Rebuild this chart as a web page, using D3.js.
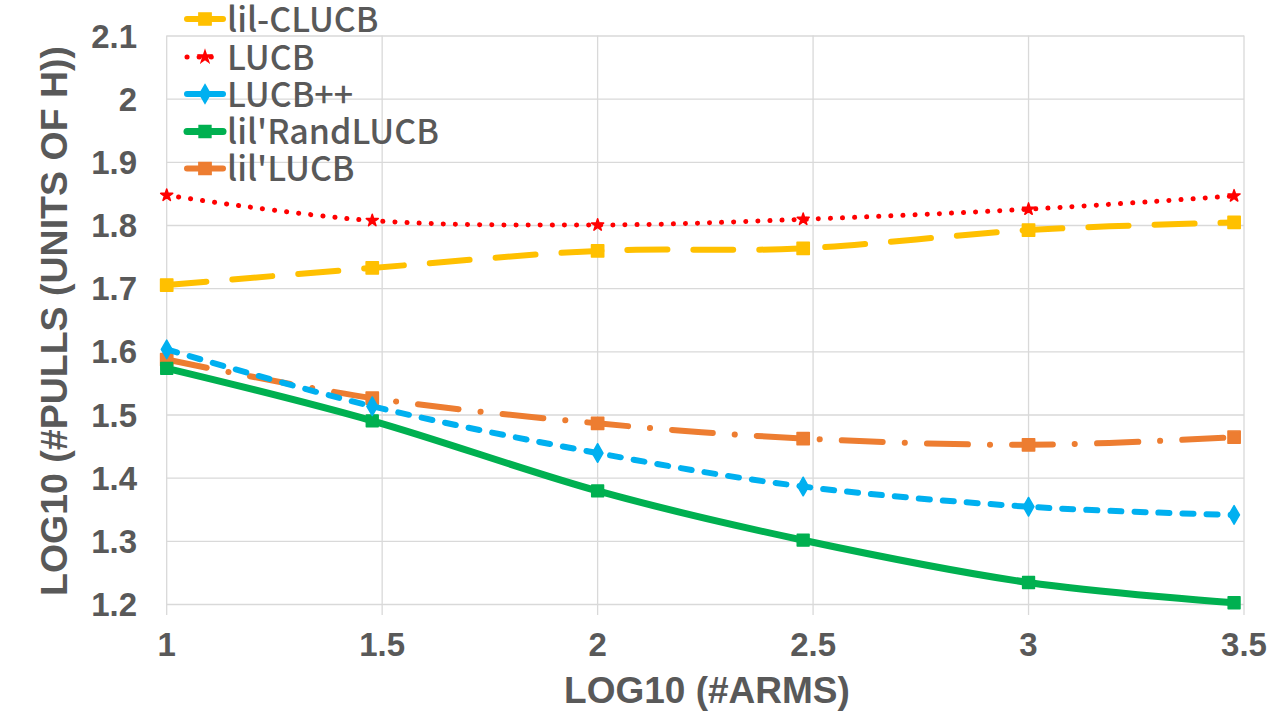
<!DOCTYPE html>
<html>
<head>
<meta charset="utf-8">
<script src="https://cdn.jsdelivr.net/npm/d3@7/dist/d3.min.js"></script>
<style>
  html, body { margin: 0; padding: 0; background: #ffffff; }
  svg { display: block; }
</style>
</head>
<body>
<svg id="chart" width="1280" height="720"></svg>
<script>
// ---- data ----
const xValues = [1, 1.477, 2, 2.477, 3, 3.477];
const seriesNames = ["lil-CLUCB", "LUCB", "LUCB++", "lil'RandLUCB", "lil'LUCB"];
const lilCLUCB   = [1.705, 1.732, 1.759, 1.763, 1.792, 1.804];
const lucb       = [1.847, 1.807, 1.800, 1.809, 1.825, 1.846];
const lucbPP     = [1.603, 1.513, 1.439, 1.386, 1.354, 1.341];
const lilRandLUCB= [1.573, 1.490, 1.379, 1.301, 1.234, 1.202];
const lilLUCB    = [1.587, 1.526, 1.486, 1.462, 1.452, 1.464];
const xTicks = [1, 1.5, 2, 2.5, 3, 3.5];
const yTicks = [1.2, 1.3, 1.4, 1.5, 1.6, 1.7, 1.8, 1.9, 2.0, 2.1];
const xTitle = "LOG10 (#ARMS)";
const yTitle = "LOG10 (#PULLS (UNITS OF H))";

// ---- styles ----
const styles = [
  { color: "#FFC000", width: 6, dash: "40 26", symbol: d3.symbolSquare, size: 150 },
  { color: "#FF0000", width: 5, dash: "0.1 12", symbol: d3.symbolStar, size: 45 },
  { color: "#00B0F0", width: 6, dash: "11 13", symbol: d3.symbolDiamond, size: 100 },
  { color: "#00B050", width: 7, dash: null, symbol: d3.symbolSquare, size: 140 },
  { color: "#ED7D31", width: 6, dash: "41 22 0.1 22", symbol: d3.symbolSquare, size: 150 }
];
const allSeries = [lilCLUCB, lucb, lucbPP, lilRandLUCB, lilLUCB];

const svg = d3.select("#chart");
const x = d3.scaleLinear().domain([1, 3.5]).range([166.7, 1244]);
const y = d3.scaleLinear().domain([1.2, 2.1]).range([604, 35.5]);
const textColor = "#595959";
const gridColor = "#D9D9D9";

// gridlines
svg.append("g").selectAll("line").data(yTicks).join("line")
  .attr("x1", x(1)).attr("x2", x(3.5))
  .attr("y1", d => y(d) + 0.5).attr("y2", d => y(d) + 0.5)
  .attr("stroke", gridColor).attr("stroke-width", 1.3);
svg.append("g").selectAll("line").data(xTicks).join("line")
  .attr("x1", d => x(d)).attr("x2", d => x(d))
  .attr("y1", y(2.1)).attr("y2", 615)
  .attr("stroke", gridColor).attr("stroke-width", 1.3);

// tick labels
svg.append("g").selectAll("text").data(yTicks).join("text")
  .attr("x", 137).attr("y", d => y(d) + 12)
  .attr("text-anchor", "end")
  .attr("font-family", "Liberation Sans, Arial, sans-serif")
  .attr("font-weight", "bold").attr("font-size", 33)
  .attr("fill", textColor)
  .text(d => d3.format("~g")(d));
svg.append("g").selectAll("text").data(xTicks).join("text")
  .attr("x", d => x(d)).attr("y", 656)
  .attr("text-anchor", "middle")
  .attr("font-family", "Liberation Sans, Arial, sans-serif")
  .attr("font-weight", "bold").attr("font-size", 33)
  .attr("fill", textColor)
  .text(d => d3.format("~g")(d));

// axis titles
svg.append("text")
  .attr("x", 707).attr("y", 703)
  .attr("text-anchor", "middle")
  .attr("font-family", "Liberation Sans, Arial, sans-serif")
  .attr("font-weight", "bold").attr("font-size", 37)
  .attr("fill", textColor).text(xTitle);
svg.append("text")
  .attr("transform", "translate(67,321) rotate(-90)")
  .attr("text-anchor", "middle")
  .attr("font-family", "Liberation Sans, Arial, sans-serif")
  .attr("font-weight", "bold").attr("font-size", 37.5)
  .attr("fill", textColor).text(yTitle);

// lines
const line = d3.line()
  .x((d, i) => x(xValues[i]))
  .y(d => y(d))
  .curve(d3.curveCardinal.tension(0));

const drawOrder = [4, 3, 2, 0, 1];
drawOrder.forEach(si => {
  const s = styles[si];
  const g = svg.append("g");
  g.append("path")
    .attr("d", line(allSeries[si]))
    .attr("fill", "none")
    .attr("stroke", s.color)
    .attr("stroke-width", s.width)
    .attr("stroke-linecap", "round")
    .attr("stroke-linejoin", "round")
    .attr("stroke-dasharray", s.dash);
  g.selectAll("path.m").data(allSeries[si]).join("path")
    .attr("class", "m")
    .attr("transform", (d, i) => `translate(${x(xValues[i])},${y(d)})`)
    .attr("d", d3.symbol().type(s.symbol).size(s.size))
    .attr("fill", s.color)
    .attr("stroke", s.color)
    .attr("stroke-width", 1.5)
    .attr("stroke-linejoin", "round");
});

// legend
const legendY = [19, 57, 94, 131.5, 168.5];
const lg = svg.append("g");
seriesNames.forEach((name, i) => {
  const s = styles[i];
  const yc = legendY[i];
  lg.append("line")
    .attr("x1", 187).attr("x2", 223)
    .attr("y1", yc).attr("y2", yc)
    .attr("stroke", s.color)
    .attr("stroke-width", s.width)
    .attr("stroke-linecap", "round")
    .attr("stroke-dasharray", i === 1 ? "0.1 12" : null);
  lg.append("path")
    .attr("transform", `translate(205,${yc})`)
    .attr("d", d3.symbol().type(s.symbol).size(s.size))
    .attr("fill", s.color)
    .attr("stroke", s.color)
    .attr("stroke-width", 1.5);
  lg.append("text")
    .attr("x", 227).attr("y", yc + 12.5)
    .attr("font-family", "Noto Sans CJK SC, Noto Sans, sans-serif")
    .attr("font-weight", 500)
    .attr("font-size", 34)
    .attr("fill", textColor)
    .text(name);
});
</script>
</body>
</html>
